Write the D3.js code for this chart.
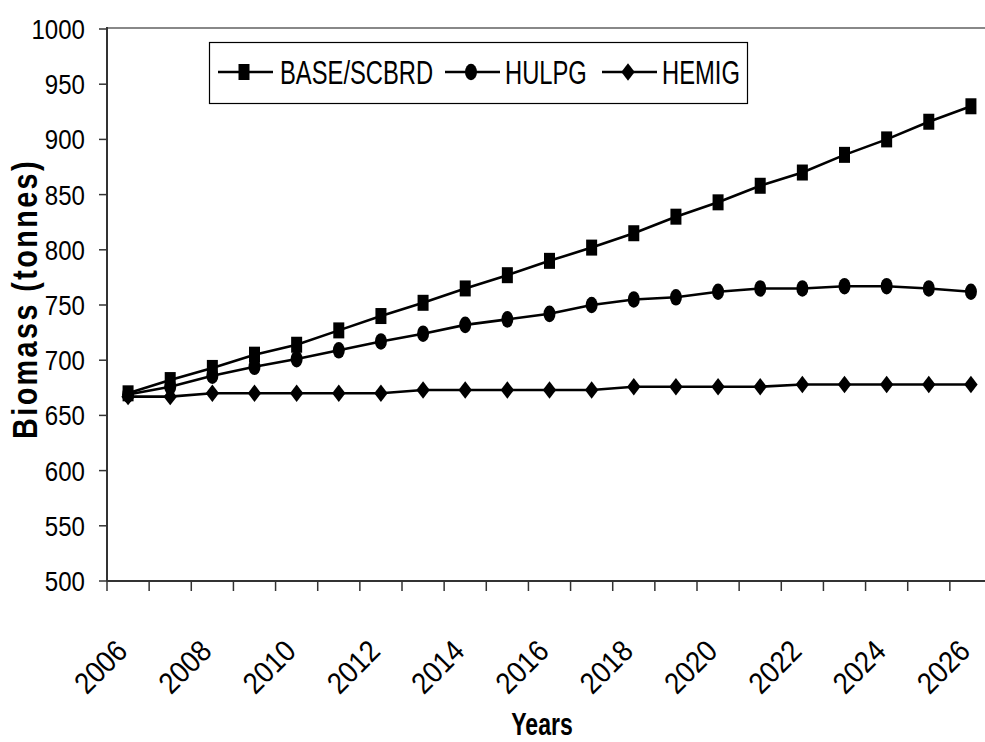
<!DOCTYPE html>
<meta charset="utf-8">
<style>
body { margin: 0; background: #fff; }
svg { display: block; }
text { font-family: "Liberation Sans", Arial, sans-serif; fill: #000; }
.series { fill: none; stroke: #000; stroke-width: 2.6px; }
</style>
<svg width="985" height="742"></svg>
<script src="https://cdn.jsdelivr.net/npm/d3@7/dist/d3.min.js"></script>
<script>

var years = [2006, 2007, 2008, 2009, 2010, 2011, 2012, 2013, 2014, 2015, 2016,
             2017, 2018, 2019, 2020, 2021, 2022, 2023, 2024, 2025, 2026];
var base  = [670, 682, 693, 705, 714, 727, 740, 752, 765, 777, 790,
             802, 815, 830, 843, 858, 870, 886, 900, 916, 930];
var hulpg = [669, 676, 686, 694, 701, 709, 717, 724, 732, 737, 742,
             750, 755, 757, 762, 765, 765, 767, 767, 765, 762];
var hemig = [667, 667, 670, 670, 670, 670, 670, 673, 673, 673, 673,
             673, 676, 676, 676, 676, 678, 678, 678, 678, 678];
var seriesNames = ["BASE/SCBRD", "HULPG", "HEMIG"];
var yTicks = [500, 550, 600, 650, 700, 750, 800, 850, 900, 950, 1000];

var svg = d3.select("svg");
var plotL = 107, plotT = 29, plotB = 581, plotR = 992;

var x = d3.scaleBand().domain(years).range([plotL, plotR]).padding(0);
var y = d3.scaleLinear().domain([500, 1000]).range([plotB, plotT]);
var bw = x.bandwidth();
var cx = function(d) { return x(d) + bw / 2; };

// plot frame: grey top border, dark axes
svg.append("line").attr("x1", plotL).attr("x2", 985).attr("y1", plotT - 1).attr("y2", plotT - 1)
    .attr("stroke", "#888").attr("stroke-width", 2);

// y axis
svg.append("line").attr("x1", plotL).attr("x2", plotL).attr("y1", plotT - 2).attr("y2", plotB)
    .attr("stroke", "#333").attr("stroke-width", 2);
svg.selectAll(".ytick").data(yTicks).enter().append("line")
    .attr("x1", plotL - 8).attr("x2", plotL)
    .attr("y1", function(d) { return y(d); }).attr("y2", function(d) { return y(d); })
    .attr("stroke", "#333").attr("stroke-width", 1.5);
svg.selectAll(".ylab").data(yTicks).enter().append("text")
    .attr("transform", function(d) { return "translate(85," + y(d) + ") scale(0.86,1)"; })
    .attr("text-anchor", "end").attr("dy", "0.36em")
    .style("font-size", "28px")
    .text(function(d) { return d; });

// x axis: ticks between categories
svg.append("line").attr("x1", plotL).attr("x2", 985).attr("y1", plotB).attr("y2", plotB)
    .attr("stroke", "#333").attr("stroke-width", 2);
svg.selectAll(".xtick").data(years).enter().append("line")
    .attr("x1", function(d) { return x(d); }).attr("x2", function(d) { return x(d); })
    .attr("y1", plotB).attr("y2", plotB + 10)
    .attr("stroke", "#333").attr("stroke-width", 1.5);
svg.selectAll(".xlab").data(years.filter(function(d) { return d % 2 === 0; })).enter().append("text")
    .attr("transform", function(d) { return "translate(" + (cx(d) + 1) + ",653) rotate(-45) scale(0.9,1)"; })
    .attr("text-anchor", "end")
    .style("font-size", "30px")
    .text(function(d) { return d; });

// axis titles
svg.append("text")
    .attr("transform", "translate(542,735) scale(0.72,1)")
    .attr("text-anchor", "middle")
    .style("font-size", "32px").style("font-weight", "bold")
    .text("Years");
svg.append("text")
    .attr("transform", "translate(37,299) rotate(-90) scale(0.8,1)")
    .attr("text-anchor", "middle")
    .style("font-size", "36px").style("font-weight", "bold").style("letter-spacing", "3px")
    .text("Biomass (tonnes)");

// markers
function drawMarker(sel, kind) {
  if (kind === "square") {
    sel.append("rect").attr("x", -5.5).attr("y", -8).attr("width", 11).attr("height", 16);
  } else if (kind === "circle") {
    sel.append("ellipse").attr("rx", 6).attr("ry", 8.3);
  } else {
    sel.append("path").attr("d", "M0,-8.7L6.7,0L0,8.7L-6.7,0Z");
  }
}

var series = [
  { name: seriesNames[2], values: hemig, marker: "diamond" },
  { name: seriesNames[1], values: hulpg, marker: "circle" },
  { name: seriesNames[0], values: base, marker: "square" }
];

var line = d3.line()
    .x(function(d, i) { return cx(years[i]); })
    .y(function(d) { return y(d); });

series.forEach(function(s) {
  svg.append("path").attr("class", "series").attr("d", line(s.values));
  svg.selectAll(null).data(s.values).enter().append("g")
      .attr("transform", function(d, i) { return "translate(" + cx(years[i]) + "," + y(d) + ")"; })
      .attr("fill", "#000")
      .each(function() { drawMarker(d3.select(this), s.marker); });
});

// legend
var legend = svg.append("g");
legend.append("rect").attr("x", 209.5).attr("y", 42.5).attr("width", 538).attr("height", 61)
    .attr("fill", "#fff").attr("stroke", "#000").attr("stroke-width", 1.2);
var legendItems = [
  { name: seriesNames[0], marker: "square", x0: 218, tx: 280 },
  { name: seriesNames[1], marker: "circle", x0: 445, tx: 505 },
  { name: seriesNames[2], marker: "diamond", x0: 602, tx: 662 }
];
legendItems.forEach(function(it) {
  legend.append("line").attr("x1", it.x0).attr("x2", it.x0 + 55).attr("y1", 72).attr("y2", 72)
      .attr("stroke", "#000").attr("stroke-width", 2.5);
  var m = legend.append("g").attr("transform", "translate(" + (it.x0 + 26) + ",72)").attr("fill", "#000");
  drawMarker(m, it.marker);
  legend.append("text")
      .attr("transform", "translate(" + it.tx + ",84) scale(0.72,1)")
      .style("font-size", "33px")
      .text(it.name);
});

</script>
